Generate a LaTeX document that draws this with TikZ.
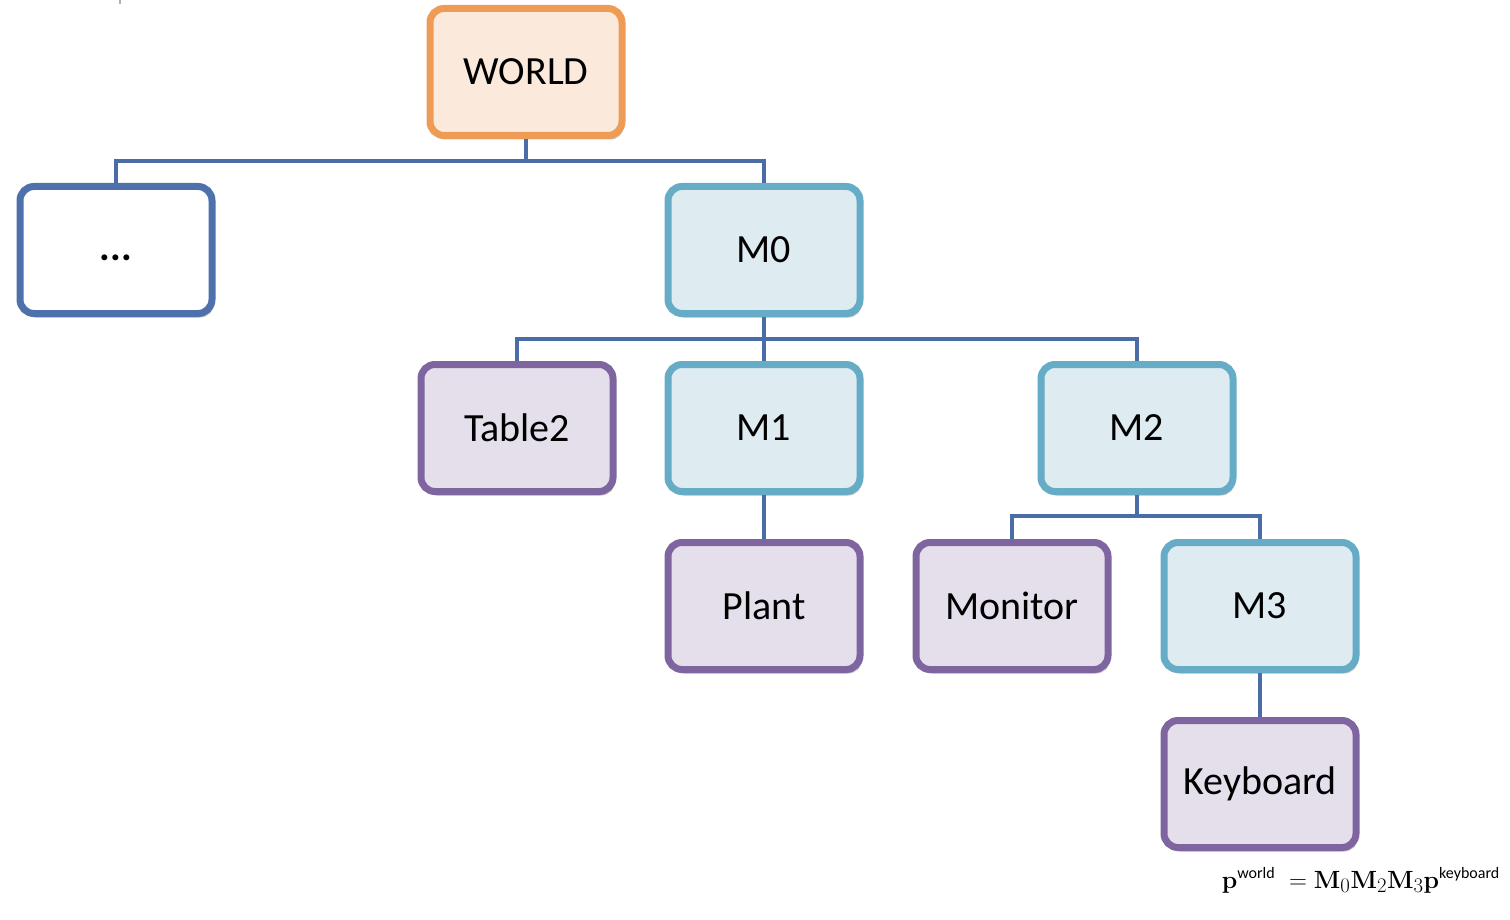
\documentclass[tikz,border=0pt]{standalone}
\usepackage[no-math]{fontspec}
\setmainfont{Carlito}
\usetikzlibrary{shadows}
\definecolor{linkc}{HTML}{4A6DA7}
\definecolor{orgB}{HTML}{EE9C55}
\definecolor{orgF}{HTML}{FBEADB}
\definecolor{bluB}{HTML}{4E70AB}
\definecolor{cyaB}{HTML}{66ACC6}
\definecolor{cyaF}{HTML}{DEEBF1}
\definecolor{purB}{HTML}{7F65A0}
\definecolor{purF}{HTML}{E5DFEC}
\tikzset{
  box/.style={draw, line width=7pt, rounded corners=14pt, minimum width=192pt, minimum height=127pt,
    inner sep=0pt, font=\fontsize{40}{44}\selectfont,
    drop shadow={shadow xshift=2pt, shadow yshift=-4pt, opacity=0.25, fill=black}},
  worldbox/.style={box, draw=orgB, fill=orgF},
  plainbox/.style={box, draw=bluB, fill=white},
  mbox/.style={box, draw=cyaB, fill=cyaF},
  objbox/.style={box, draw=purB, fill=purF},
  link/.style={draw=linkc, line width=4pt}
}
\begin{document}
\begin{tikzpicture}[x=1pt,y=-1pt]
\useasboundingbox (0,0) rectangle (1510,920);
\draw[gray!60, line width=1.5pt] (120,0) -- (120,4);
\coordinate (j0) at (526,161);
\coordinate (j1) at (764,339);
\coordinate (j2) at (1137,516);
\node[worldbox] (world) at (526,72) {WORLD};
\node[plainbox] (dots) at (116,250) {\raisebox{-11pt}[0pt][0pt]{\textbf{...}}};
\node[mbox] (m0) at (764,250) {M0};
\node[objbox] (table) at (517,428) {Table2};
\node[mbox] (m1) at (764,428) {M1};
\node[mbox] (m2) at (1137,428) {M2};
\node[objbox] (plant) at (764,606) {Plant};
\node[objbox] (monitor) at (1012,606) {Monitor};
\node[mbox] (m3) at (1260,606) {M3};
\node[objbox] (kbd) at (1260,784) {Keyboard};
\draw[link] (world.south) -- (j0) -| (dots.north);
\draw[link] (j0) -| (m0.north);
\draw[link] (m0.south) -- (j1) -| (table.north);
\draw[link] (j1) -| (m2.north);
\draw[link] (m0.south) -- (m1.north);
\draw[link] (m1.south) -- (plant.north);
\draw[link] (m2.south) -- (j2) -| (monitor.north);
\draw[link] (j2) -| (m3.north);
\draw[link] (m3.south) -- (kbd.north);
\node[anchor=base east, inner sep=0pt, font=\fontsize{32}{34}\selectfont] (eq) at (1500,888)
 {$\mathbf{p}^{\mbox{\fontsize{16}{17}\selectfont world}}\;=\mathbf{M}_{0}\mathbf{M}_{2}\mathbf{M}_{3}\mathbf{p}^{\mbox{\fontsize{16}{17}\selectfont keyboard}}$};
\end{tikzpicture}
\end{document}
